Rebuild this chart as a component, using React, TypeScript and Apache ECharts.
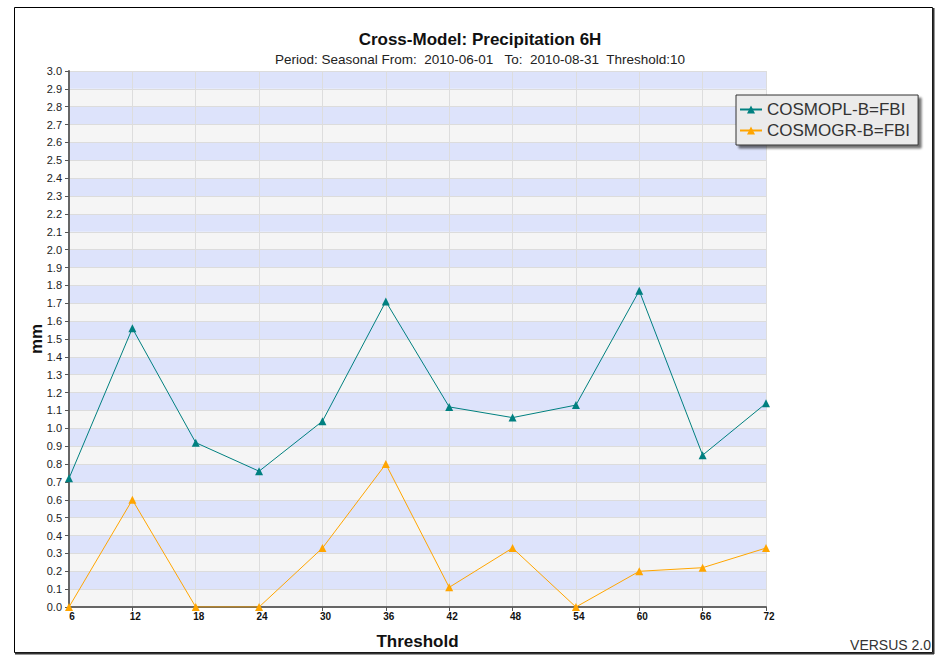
import React, { useEffect, useRef } from "react";
import * as echarts from "echarts";

const thresholds = [6, 12, 18, 24, 30, 36, 42, 48, 54, 60, 66, 72];
const cosmoPL = [0.72, 1.56, 0.92, 0.76, 1.04, 1.71, 1.12, 1.06, 1.13, 1.77, 0.85, 1.14];
const cosmoGR = [0.0, 0.6, 0.0, 0.0, 0.33, 0.8, 0.11, 0.33, 0.0, 0.2, 0.22, 0.33];
const seriesNames = ["COSMOPL-B=FBI", "COSMOGR-B=FBI"];

export default function App() {
  const ref = useRef<HTMLDivElement>(null);
  useEffect(() => {
    if (!ref.current) return;
    const chart = echarts.init(ref.current, undefined, { renderer: "svg" });
    const font = "'Liberation Sans', Arial, sans-serif";
    const mk = (vals: number[]) => thresholds.map((t, i) => [t, vals[i]]);
    chart.setOption({
      animation: false,
      backgroundColor: "#ffffff",
      textStyle: { fontFamily: font },
      title: {
        text: "Cross-Model: Precipitation 6H",
        subtext: "Period: Seasonal From:  2010-06-01   To:  2010-08-31  Threshold:10",
        left: 475,
        textAlign: "center",
        top: 26,
        itemGap: 4,
        textStyle: { fontSize: 17, fontWeight: "bold", color: "#111", fontFamily: font },
        subtextStyle: { fontSize: 13.5, color: "#222", fontFamily: font },
      },
      legend: {
        orient: "vertical",
        left: 736,
        top: 95,
        padding: [6, 8, 6, 3],
        itemGap: 4,
        itemWidth: 22,
        itemHeight: 10,
        backgroundColor: "#ebebeb",
        borderColor: "#333",
        borderWidth: 1,
        shadowColor: "rgba(0,0,0,0.55)",
        shadowBlur: 2,
        shadowOffsetX: 3,
        shadowOffsetY: 3,
        textStyle: { fontSize: 17, color: "#333", fontFamily: font },
        data: seriesNames,
      },
      grid: { left: 69, right: 169, top: 71, bottom: 49 },
      xAxis: {
        type: "value",
        min: 6,
        max: 72,
        interval: 6,
        name: "Threshold",
        nameLocation: "middle",
        nameGap: 26,
        nameTextStyle: { fontSize: 17, fontWeight: "bold", color: "#111", fontFamily: font },
        axisLine: { show: true, lineStyle: { color: "#666", width: 2 } },
        axisTick: { show: true, length: 4, lineStyle: { color: "#555" } },
        axisLabel: { fontSize: 10, fontWeight: "bold", color: "#111", margin: 4, padding: [0, 0, 0, 6] },
        splitLine: { show: true, lineStyle: { color: "#dddddd", width: 1 } },
      },
      yAxis: {
        type: "value",
        min: 0,
        max: 3,
        interval: 0.1,
        name: "mm",
        nameLocation: "middle",
        nameGap: 24,
        nameMoveOverlap: false,
        nameTextStyle: { fontSize: 17, fontWeight: "bold", color: "#111", fontFamily: font },
        axisLine: { show: true, lineStyle: { color: "#666", width: 2 } },
        axisTick: { show: true, length: 4, lineStyle: { color: "#555" } },
        axisLabel: {
          fontSize: 11,
          color: "#222",
          margin: 7,
          formatter: (v: number) => v.toFixed(1),
        },
        splitLine: { show: true, lineStyle: { color: "#dcdcdc", width: 1 } },
        splitArea: { show: true, areaStyle: { color: ["#f5f5f5", "#dde3fb"] } },
      },
      series: [
        {
          name: seriesNames[0],
          type: "line",
          data: mk(cosmoPL),
          symbol: "triangle",
          symbolSize: 8,
          lineStyle: { color: "#008080", width: 1 },
          itemStyle: { color: "#008080" },
        },
        {
          name: seriesNames[1],
          type: "line",
          data: mk(cosmoGR),
          symbol: "triangle",
          symbolSize: 8,
          lineStyle: { color: "#ffa500", width: 1 },
          itemStyle: { color: "#ffa500" },
        },
      ],
      graphic: [
        {
          type: "rect",
          shape: { x: 14.5, y: 7.5, width: 918, height: 645 },
          style: { fill: "none", stroke: "#000", lineWidth: 1 },
          silent: true,
        },
        {
          type: "line",
          shape: { x1: 933.5, y1: 8, x2: 933.5, y2: 654 },
          style: { stroke: "#333", lineWidth: 2 },
          silent: true,
        },
        {
          type: "line",
          shape: { x1: 15, y1: 653.5, x2: 934, y2: 653.5 },
          style: { stroke: "#333", lineWidth: 2 },
          silent: true,
        },
        {
          type: "text",
          right: 4,
          top: 638,
          style: { text: "VERSUS 2.0", fontSize: 14, fill: "#333", fontFamily: font },
        },
      ],
    });
    return () => chart.dispose();
  }, []);
  return (
    <div
      ref={ref}
      style={{ position: "fixed", left: 0, top: 0, width: 935, height: 656 }}
    />
  );
}
